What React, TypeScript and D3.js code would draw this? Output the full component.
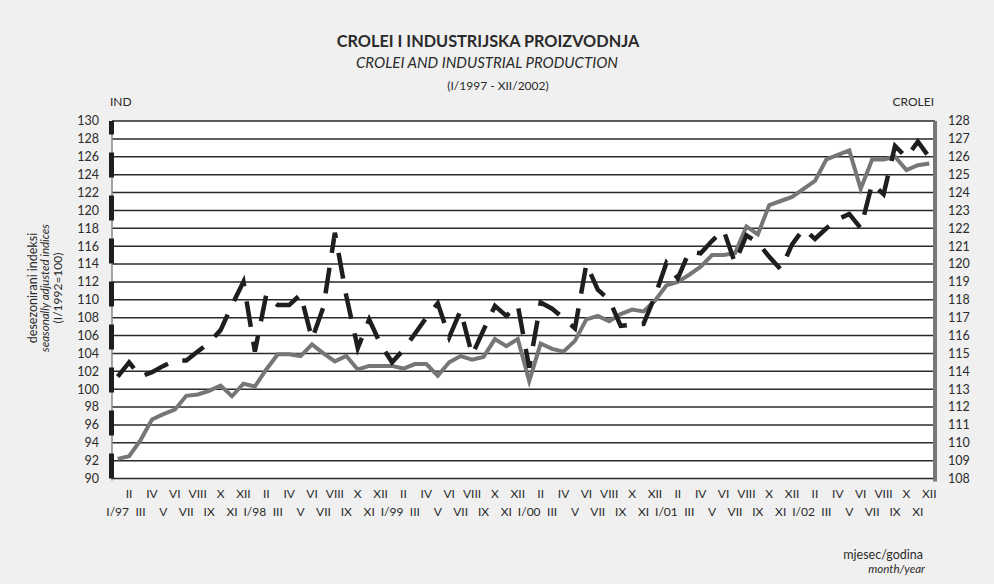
import React, { useEffect } from "react";
import * as d3 from "d3";

// IND (left axis, gray solid), monthly I/1997 - XII/2002
const indValues: number[] = [
  92.2, 92.5, 94.3, 96.6, 97.2, 97.7, 99.25, 99.4, 99.8, 100.4, 99.2, 100.6,
  100.3, 102.2, 103.9, 103.9, 103.7, 105.0, 104.0, 103.1, 103.7, 102.2, 102.6, 102.6,
  102.6, 102.3, 102.8, 102.8, 101.5, 103.0, 103.7, 103.3, 103.6, 105.6, 104.8, 105.6,
  100.9, 105.1, 104.5, 104.2, 105.4, 107.8, 108.2, 107.6, 108.4, 108.9, 108.7, 109.9,
  111.6, 112.0, 112.8, 113.7, 115.0, 115.0, 115.2, 118.2, 117.3, 120.6, 121.05, 121.5,
  122.4, 123.3, 125.7, 126.2, 126.7, 122.4, 125.7, 125.7, 126.0, 124.5, 125.05, 125.25,
];

// CROLEI (right axis, black dashed)
const croleiValues: number[] = [
  113.7, 114.5, 113.7, 113.95, 114.3, 114.6, 114.6, 115.1, 115.6, 116.3, 117.7, 119.0,
  115.1, 118.3, 117.7, 117.7, 118.3, 115.8, 117.6, 121.75, 118.2, 115.3, 116.9, 115.5,
  114.5, 115.2, 116.1, 117.0, 117.8, 115.9, 117.4, 114.9, 116.3, 117.66, 117.1, 117.7,
  114.2, 117.85, 117.5, 116.97, 116.4, 120.0, 118.56, 118.0, 116.54, 116.6, 116.65, 118.2,
  120.06, 119.2, 120.7, 120.6, 121.3, 121.9, 120.06, 121.6, 121.2, 120.4, 119.7, 121.1,
  121.97, 121.4, 122.0, 122.5, 122.8, 122.0, 124.5, 123.9, 126.6, 125.96, 126.85, 125.96,
];

const monthNumerals: string[] = ["I", "II", "III", "IV", "V", "VI", "VII", "VIII", "IX", "X", "XI", "XII"];
const yearLabels: string[] = ["97", "98", "99", "00", "01", "02"];
const leftTicks: number[] = d3.range(90, 131, 2);
const rightTicks: number[] = d3.range(108, 129, 1);

const FONT = "Lato, 'Open Sans', sans-serif";
const TXT = "#2b2b2b";

export default function App() {
  useEffect(() => {
    document.body.style.margin = "0";
  }, []);

  const W = 994;
  const H = 584;
  const plotL = 112;
  const plotR = 935;
  const plotT = 121;
  const plotB = 478.5;

  const n = indValues.length;
  const x = d3.scalePoint<number>().domain(d3.range(n)).range([117.7, 929.3]);
  const yL = d3.scaleLinear().domain([90, 130]).range([plotB, plotT]);
  const yR = d3.scaleLinear().domain([108, 128]).range([plotB, plotT]);

  const indLine = d3
    .line<number>()
    .x((_, i) => x(i) as number)
    .y((d) => yL(d));
  const crLine = d3
    .line<number>()
    .x((_, i) => x(i) as number)
    .y((d) => yR(d));

  const monthLabels = d3.range(n).map((i) => {
    const m = i % 12;
    const yr = Math.floor(i / 12);
    return m === 0 ? `${monthNumerals[0]}/${yearLabels[yr]}` : monthNumerals[m];
  });

  return (
    <svg width={W} height={H} style={{ position: "absolute", left: 0, top: 0, display: "block" }}>
      <rect x={0} y={0} width={W} height={H} fill="#f0f0f0" />

      {/* titles */}
      <text x={488} y={47} textAnchor="middle" fontFamily={FONT} fontWeight="bold" fontSize={16.3} fill={TXT}>
        CROLEI I INDUSTRIJSKA PROIZVODNJA
      </text>
      <text x={487} y={68} textAnchor="middle" fontFamily={FONT} fontStyle="italic" fontSize={15} fill={TXT}>
        CROLEI AND INDUSTRIAL PRODUCTION
      </text>
      <text x={498} y={89.5} textAnchor="middle" fontFamily={FONT} fontSize={12} fill={TXT}>
        (I/1997 - XII/2002)
      </text>

      <text x={110} y={106} fontFamily={FONT} fontSize={12} fill={TXT}>IND</text>
      <text x={934} y={106} textAnchor="end" fontFamily={FONT} fontSize={12} fill={TXT}>CROLEI</text>

      {/* plot background */}
      <rect x={plotL} y={plotT} width={plotR - plotL} height={plotB - plotT} fill="#ffffff" />

      {/* gridlines */}
      {leftTicks.map((t) => (
        <line key={"g" + t} x1={plotL} x2={plotR} y1={yL(t)} y2={yL(t)} stroke="#2a2a2a" strokeWidth={1.5} />
      ))}

      {/* left axis */}
      <line x1={plotL} x2={plotL} y1={plotT} y2={plotB + 2} stroke="#888" strokeWidth={1.5} />
      <line x1={plotL - 0.5} x2={plotL - 0.5} y1={plotB} y2={plotT} stroke="#1e1e1e" strokeWidth={5} strokeDasharray="25,18" />
      {leftTicks.map((t) => (
        <text key={"l" + t} x={99} y={yL(t)} dy="0.35em" textAnchor="end" fontFamily={FONT} fontSize={12.5} fill={TXT}>
          {t}
        </text>
      ))}

      {/* right axis */}
      <line x1={plotR} x2={plotR} y1={plotT} y2={plotB + 3} stroke="#777" strokeWidth={4} />
      {rightTicks.map((t) => (
        <text key={"r" + t} x={948} y={yR(t)} dy="0.35em" textAnchor="start" fontFamily={FONT} fontSize={12.5} fill={TXT}>
          {t}
        </text>
      ))}

      {/* series */}
      <path d={indLine(indValues) || ""} fill="none" stroke="#767676" strokeWidth={4} strokeLinejoin="miter" />
      <path
        d={crLine(croleiValues) || ""}
        fill="none"
        stroke="#1e1e1e"
        strokeWidth={4.5}
        strokeDasharray="26,15"
        strokeLinejoin="miter"
        strokeLinecap="butt"
      />

      {/* x labels */}
      {monthLabels.map((lab, i) => (
        <text
          key={"x" + i}
          x={x(i) as number}
          y={i % 2 === 1 ? 498 : 516}
          textAnchor="middle"
          fontFamily={FONT}
          fontSize={12}
          fill={TXT}
        >
          {lab}
        </text>
      ))}

      {/* y axis title */}
      <g transform="translate(37,288) rotate(-90)">
        <text x={0} y={0} textAnchor="middle" fontFamily={FONT} fontSize={12.5} fill={TXT}>desezonirani indeksi</text>
        <text x={0} y={11.5} textAnchor="middle" fontFamily={FONT} fontStyle="italic" fontSize={11.5} fill={TXT}>seasonally adjusted indices</text>
        <text x={0} y={25} textAnchor="middle" fontFamily={FONT} fontSize={12} fill={TXT}>(I/1992=100)</text>
      </g>

      {/* x axis title */}
      <text x={923} y={559} textAnchor="end" fontFamily={FONT} fontSize={12.5} fill={TXT}>mjesec/godina</text>
      <text x={925} y={573} textAnchor="end" fontFamily={FONT} fontStyle="italic" fontSize={11.5} fill={TXT}>month/year</text>
    </svg>
  );
}
